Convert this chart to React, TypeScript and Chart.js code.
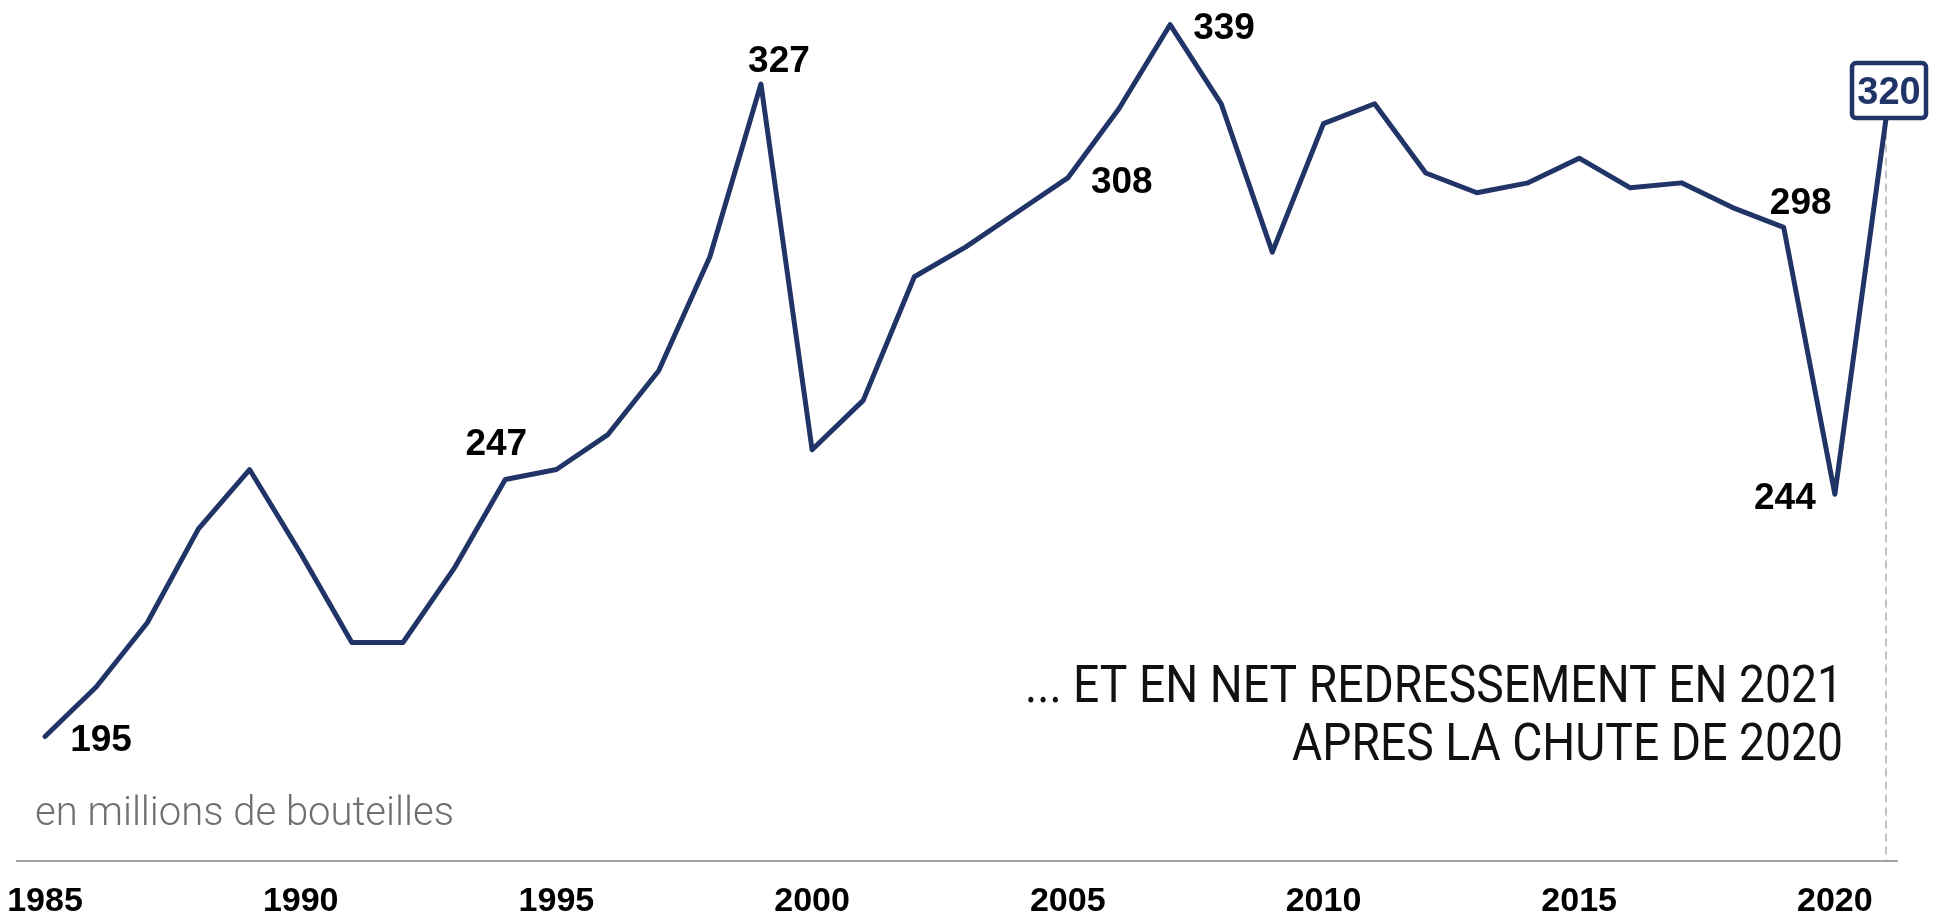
import React, { useEffect, useRef } from 'react';
import { Chart, registerables } from 'chart.js';

Chart.register(...registerables);

// ---- data ----
const years: number[] = [
  1985, 1986, 1987, 1988, 1989, 1990, 1991, 1992, 1993, 1994,
  1995, 1996, 1997, 1998, 1999, 2000, 2001, 2002, 2003, 2004,
  2005, 2006, 2007, 2008, 2009, 2010, 2011, 2012, 2013, 2014,
  2015, 2016, 2017, 2018, 2019, 2020, 2021,
];
const bottles: number[] = [
  195, 205, 218, 237, 249, 232, 214, 214, 229, 247,
  249, 256, 269, 292, 327, 253, 263, 288, 294, 301,
  308, 322, 339, 323, 293, 319, 323, 309, 305, 307,
  312, 306, 307, 302, 298, 244, 320,
];
const tickYears: number[] = [1985, 1990, 1995, 2000, 2005, 2010, 2015, 2020];
const labelledYears: number[] = [1985, 1994, 1999, 2005, 2007, 2019, 2020];
const highlightYear = 2021;
const unitText = 'en millions de bouteilles';
const noteLines: string[] = ['... ET EN NET REDRESSEMENT EN 2021', 'APRES LA CHUTE DE 2020'];

// ---- styling / placement ----
const NAVY = '#213467';
const labelOffsets: Record<number, [number, number]> = {
  1985: [56, 1],
  1994: [-9, -38],
  1999: [18, -25],
  2005: [54, 2],
  2007: [54, 1],
  2019: [17, -27],
  2020: [-50, 2],
};
const LABEL_FONT_SIZE = 37;
const BOX = { dx: 3, dy: -28, w: 74, h: 55, fontSize: 38 };

const overlayPlugin = {
  id: 'overlay',
  beforeDatasetsDraw(chart: any) {
    const { ctx, chartArea } = chart;
    const meta = chart.getDatasetMeta(0);
    ctx.save();
    ctx.strokeStyle = '#a2a2a2';
    ctx.lineWidth = 2;
    ctx.beginPath();
    ctx.moveTo(16, chartArea.bottom + 1);
    ctx.lineTo(1898, chartArea.bottom + 1);
    ctx.stroke();
    const hi = meta.data[years.indexOf(highlightYear)];
    ctx.strokeStyle = '#b0b0b0';
    ctx.lineWidth = 1.5;
    ctx.setLineDash([8, 5]);
    ctx.beginPath();
    ctx.moveTo(hi.x, hi.y);
    ctx.lineTo(hi.x, chartArea.bottom);
    ctx.stroke();
    ctx.restore();
  },
  afterDatasetsDraw(chart: any) {
    const { ctx } = chart;
    const meta = chart.getDatasetMeta(0);
    ctx.save();
    ctx.fillStyle = '#000';
    ctx.textAlign = 'center';
    ctx.textBaseline = 'alphabetic';
    ctx.font = `bold ${LABEL_FONT_SIZE}px "Liberation Sans", Arial, sans-serif`;
    const cap = LABEL_FONT_SIZE * 0.716;
    labelledYears.forEach((yr) => {
      const i = years.indexOf(yr);
      const el = meta.data[i];
      const [dx, dy] = labelOffsets[yr];
      ctx.fillText(String(bottles[i]), el.x + dx, el.y + dy + cap / 2);
    });
    const hi = years.indexOf(highlightYear);
    const el = meta.data[hi];
    const cx = el.x + BOX.dx;
    const cy = el.y + BOX.dy;
    ctx.fillStyle = '#fff';
    ctx.strokeStyle = NAVY;
    ctx.lineWidth = 4.5;
    ctx.beginPath();
    (ctx as any).roundRect(cx - BOX.w / 2, cy - BOX.h / 2, BOX.w, BOX.h, 4);
    ctx.fill();
    ctx.stroke();
    ctx.fillStyle = NAVY;
    ctx.font = `bold ${BOX.fontSize}px "Liberation Sans", Arial, sans-serif`;
    ctx.fillText(String(bottles[hi]), cx, cy + (BOX.fontSize * 0.716) / 2);
    ctx.restore();
  },
  afterDraw(chart: any) {
    const { ctx } = chart;
    ctx.save();
    ctx.fillStyle = '#707070';
    ctx.font = '300 40px Roboto, sans-serif';
    ctx.textAlign = 'left';
    ctx.textBaseline = 'alphabetic';
    ctx.fillText(unitText, 35, 825);
    ctx.fillStyle = '#111';
    ctx.font = '400 52px Roboto, sans-serif';
    ctx.textAlign = 'right';
    const natural = ctx.measureText(noteLines[0]).width;
    const sx = 818 / natural;
    const baselines = [702, 760];
    noteLines.forEach((t, k) => {
      ctx.save();
      ctx.translate(1843, baselines[k]);
      ctx.scale(sx, 1);
      ctx.fillText(t, 0, 0);
      ctx.restore();
    });
    ctx.restore();
  },
};

export default function App() {
  const ref = useRef<HTMLCanvasElement | null>(null);
  useEffect(() => {
    if (!ref.current) return;
    const chart = new Chart(ref.current, {
      type: 'line',
      data: {
        labels: years.map(String),
        datasets: [
          {
            data: bottles,
            borderColor: NAVY,
            borderWidth: 5,
            pointRadius: 0,
            tension: 0,
            fill: false,
            clip: false as any,
            borderJoinStyle: 'round',
            borderCapStyle: 'round',
          },
        ],
      },
      options: {
        animation: false,
        responsive: false,
        devicePixelRatio: 1,
        layout: { padding: { left: 45, right: 51, top: 0, bottom: 0 } },
        plugins: { legend: { display: false }, tooltip: { enabled: false } },
        scales: {
          x: {
            type: 'category',
            offset: false,
            grid: { display: false, drawTicks: false },
            border: { display: false },
            ticks: {
              autoSkip: false,
              maxRotation: 0,
              padding: 21,
              color: '#000',
              font: { family: '"Liberation Sans", Arial, sans-serif', size: 34, weight: 'bold' },
              callback: (_v: any, i: number) => (tickYears.includes(years[i]) ? String(years[i]) : ''),
            },
            afterFit: (scale: any) => {
              scale.height = 58;
              scale.paddingLeft = 0;
              scale.paddingRight = 0;
            },
          },
          y: {
            display: false,
            min: 170,
            max: 344,
          },
        },
      },
      plugins: [overlayPlugin],
    });
    return () => chart.destroy();
  }, []);
  return (
    <div style={{ position: 'absolute', left: 0, top: 0, width: 1937, height: 918, background: '#fff' }}>
      <canvas ref={ref} width={1937} height={918} style={{ display: 'block' }} />
    </div>
  );
}
